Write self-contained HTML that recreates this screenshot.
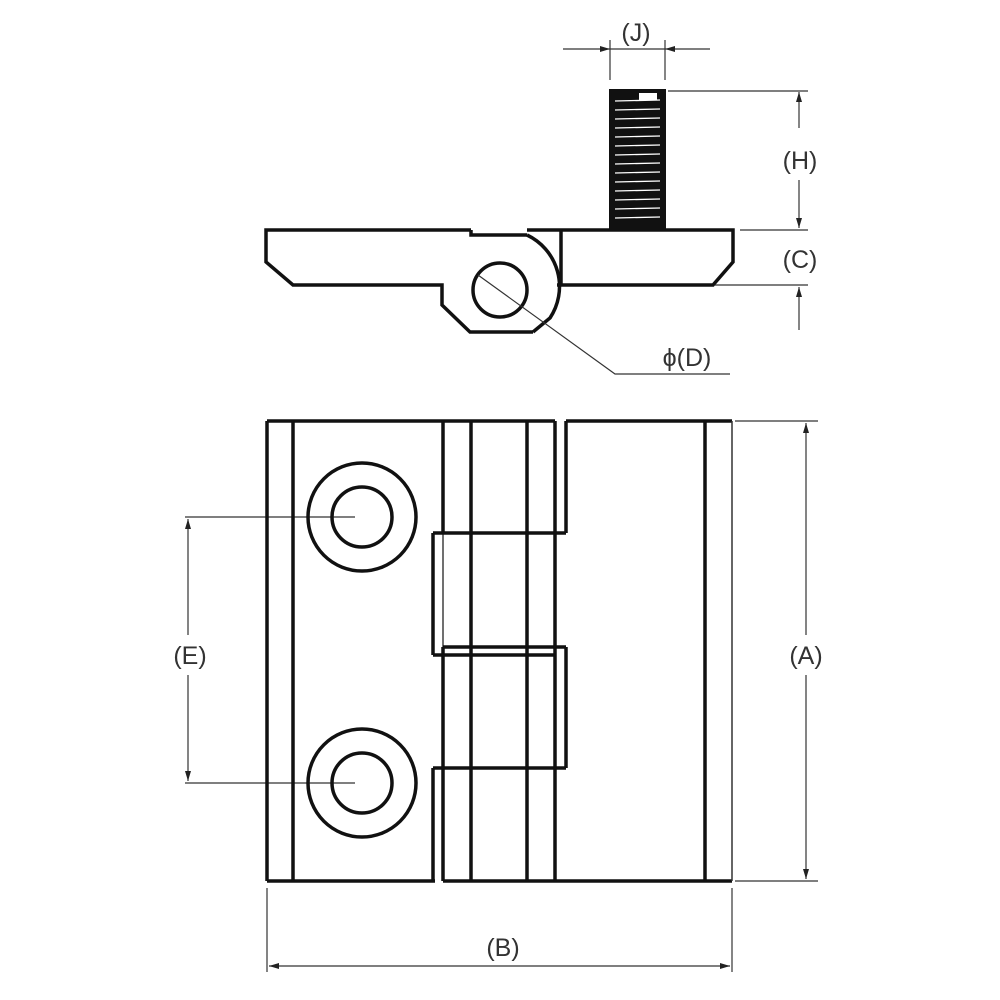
<!DOCTYPE html>
<html><head><style>body{margin:0;background:#fff}svg{display:block}</style></head><body>
<svg width="1000" height="1000" viewBox="0 0 1000 1000" xmlns="http://www.w3.org/2000/svg">
<defs>
<marker id="ar" viewBox="0 0 10 6" refX="10" refY="3" markerWidth="10" markerHeight="6" orient="auto-start-reverse" markerUnits="userSpaceOnUse"><path d="M0,0 L10,3 L0,6 z" fill="#222"/></marker>
</defs>
<g fill="none" stroke="#111" stroke-width="3.5" stroke-linejoin="miter">
<path d="M471,230 H266 V262 L293,285 H442 V305 L470,332 H533"/>
<path d="M471,230 V235 H527"/>
<path d="M527,235 A57 57 0 0 1 550,318 L533,332"/>
<path d="M527,230 H733 V262 L713,285 H557"/>
<path d="M561,230 V285"/>
<circle cx="500" cy="290" r="27"/>
<rect x="610" y="90" width="55" height="140" fill="#111" stroke-width="2"/>
</g>
<g stroke="#fff" stroke-width="1.3">
<line x1="615" y1="101" x2="660" y2="100"/><line x1="615" y1="110" x2="660" y2="109"/><line x1="615" y1="119" x2="660" y2="118"/><line x1="615" y1="128" x2="660" y2="127"/><line x1="615" y1="137" x2="660" y2="136"/><line x1="615" y1="146" x2="660" y2="145"/><line x1="615" y1="155" x2="660" y2="154"/><line x1="615" y1="164" x2="660" y2="163"/><line x1="615" y1="173" x2="660" y2="172"/><line x1="615" y1="182" x2="660" y2="181"/><line x1="615" y1="191" x2="660" y2="190"/><line x1="615" y1="200" x2="660" y2="199"/><line x1="615" y1="209" x2="660" y2="208"/><line x1="615" y1="218" x2="660" y2="217"/>
</g>
<rect x="639" y="93" width="18" height="7" fill="#fff"/>
<g stroke="#333" stroke-width="1.2" fill="none">
<line x1="610" y1="40" x2="610" y2="80"/><line x1="665" y1="40" x2="665" y2="80"/>
<line x1="563" y1="49" x2="610" y2="49" marker-end="url(#ar)"/>
<line x1="710" y1="49" x2="665" y2="49" marker-end="url(#ar)"/>
<line x1="610" y1="49" x2="665" y2="49"/>
<line x1="668" y1="91" x2="808" y2="91"/>
<line x1="740" y1="230" x2="808" y2="230"/>
<line x1="715" y1="285" x2="808" y2="285"/>
<line x1="799" y1="128" x2="799" y2="92" marker-end="url(#ar)"/>
<line x1="799" y1="180" x2="799" y2="228" marker-end="url(#ar)"/>
<line x1="799" y1="330" x2="799" y2="287" marker-end="url(#ar)"/>
<polyline points="478,275 615,374 730,374"/>
<line x1="185" y1="517" x2="355" y2="517"/>
<line x1="185" y1="783" x2="355" y2="783"/>
<line x1="188" y1="635" x2="188" y2="519" marker-end="url(#ar)"/>
<line x1="188" y1="675" x2="188" y2="781" marker-end="url(#ar)"/>
<line x1="735" y1="421" x2="818" y2="421"/>
<line x1="735" y1="881" x2="818" y2="881"/>
<line x1="806" y1="635" x2="806" y2="423" marker-end="url(#ar)"/>
<line x1="806" y1="675" x2="806" y2="879" marker-end="url(#ar)"/>
<line x1="267" y1="888" x2="267" y2="972"/>
<line x1="732" y1="888" x2="732" y2="972"/>
<line x1="269" y1="966" x2="730" y2="966" marker-start="url(#ar)" marker-end="url(#ar)"/>
</g>
<g fill="none" stroke="#111" stroke-width="3.5">
<line x1="267" y1="421" x2="555" y2="421"/><line x1="566" y1="421" x2="732" y2="421"/>
<line x1="267" y1="881" x2="435" y2="881"/><line x1="443" y1="881" x2="732" y2="881"/>
<line x1="267" y1="421" x2="267" y2="881"/><line x1="293" y1="421" x2="293" y2="881"/>
<line x1="705" y1="421" x2="705" y2="881"/>
<line x1="443" y1="421" x2="443" y2="533"/><line x1="443" y1="647" x2="443" y2="881"/>
<line x1="433" y1="533" x2="433" y2="655"/><line x1="433" y1="768" x2="433" y2="881"/>
<line x1="433" y1="533" x2="566" y2="533"/><line x1="566" y1="421" x2="566" y2="533"/>
<line x1="443" y1="647" x2="566" y2="647"/><line x1="433" y1="655" x2="555" y2="655"/>
<line x1="566" y1="647" x2="566" y2="768"/><line x1="433" y1="768" x2="566" y2="768"/>
<line x1="555" y1="421" x2="555" y2="881"/>
<line x1="471" y1="421" x2="471" y2="881"/><line x1="527" y1="421" x2="527" y2="881"/>
<circle cx="362" cy="517" r="54"/><circle cx="362" cy="517" r="30"/>
<circle cx="362" cy="783" r="54"/><circle cx="362" cy="783" r="30"/>
</g>
<line x1="443" y1="533" x2="443" y2="647" stroke="#111" stroke-width="1.2"/>
<line x1="732" y1="421" x2="732" y2="881" stroke="#333" stroke-width="1.5"/>
<g font-family="Liberation Sans, sans-serif" font-size="25" fill="#333" text-anchor="middle">
<text x="636" y="41">(J)</text>
<text x="800" y="169">(H)</text>
<text x="800" y="268">(C)</text>
<text x="687" y="366">ϕ(D)</text>
<text x="190" y="664">(E)</text>
<text x="806" y="664">(A)</text>
<text x="503" y="956">(B)</text>
</g>
</svg>
</body></html>
